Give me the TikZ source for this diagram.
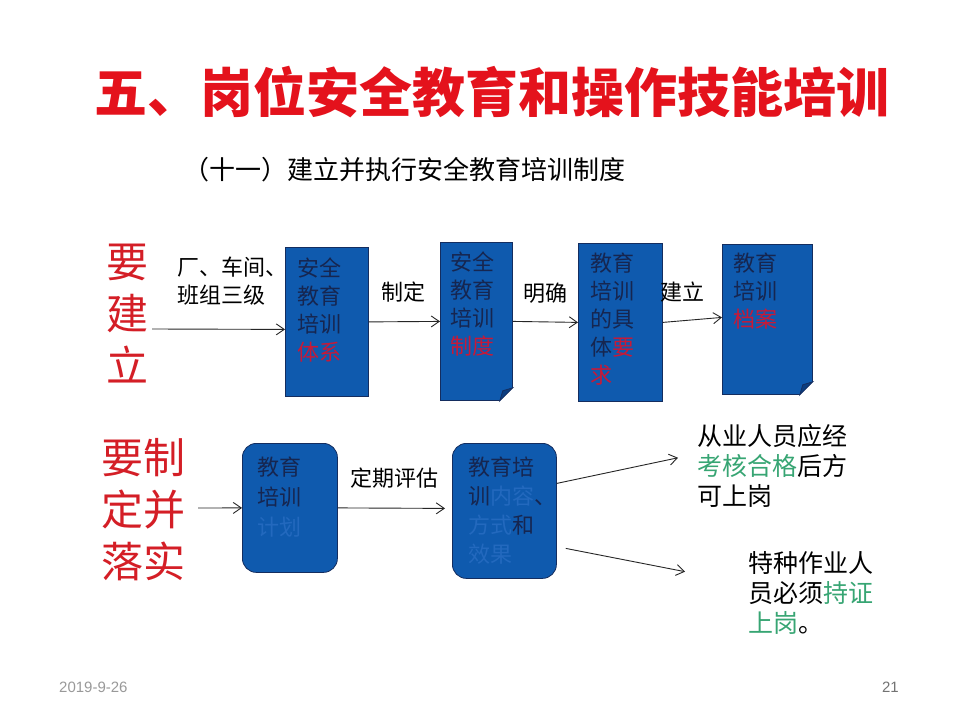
\documentclass[tikz,border=0pt]{standalone}
\usepackage{fontspec}
\setmainfont{Noto Sans CJK SC}
\setsansfont{Liberation Sans}
\usetikzlibrary{positioning,arrows.meta,calc}
\definecolor{boxblue}{RGB}{15,90,174}
\definecolor{boxline}{RGB}{20,45,95}
\definecolor{foldblue}{RGB}{12,62,128}
\definecolor{ink}{RGB}{22,38,80}
\definecolor{hired}{RGB}{200,25,55}
\definecolor{titlered}{RGB}{228,18,28}
\definecolor{sidered}{RGB}{212,30,38}
\definecolor{txtblue}{RGB}{35,105,190}
\definecolor{okgreen}{RGB}{55,165,115}
\newcommand{\fs}[2]{\fontsize{#1bp}{#2bp}\selectfont}
% folded corner at the lower right of a box
\newcommand{\fold}[1]{%
  \fill[white] ([yshift=13bp]#1.south east) -- ([xshift=1.5bp,yshift=13bp]#1.south east)
    -- ([xshift=1.5bp,yshift=-1.5bp]#1.south east) -- ([xshift=-13bp,yshift=-1.5bp]#1.south east)
    -- ([xshift=-13bp]#1.south east) -- cycle;
  \filldraw[fill=foldblue, draw=boxline, line width=0.8bp] ([yshift=13bp]#1.south east)
    -- ([xshift=-13bp]#1.south east) -- ([xshift=-10bp,yshift=10bp]#1.south east) -- cycle;}
\tikzset{
  box/.style={draw=boxline, fill=boxblue, line width=0.8bp, inner sep=0pt, anchor=north west},
  rbox/.style={box, rounded corners=14bp},
  btxt/.style={anchor=north west, inner sep=0pt, align=left, text=ink, font=\fs{22}{28}},
  lbl/.style={inner sep=0pt, align=left, font=\fs{22}{28}},
  side/.style={inner sep=0pt, align=left, text=sidered, font=\fs{42}{52}},
  note/.style={anchor=north west, inner sep=0pt, align=left, font=\fs{25}{30}},
  arr/.style={-{Straight Barb[length=8bp,width=11bp]}, line width=0.9bp, black!85},
}
\begin{document}
\begin{tikzpicture}[x=1bp, y=-1bp]
\fill[white] (0,0) rectangle (960,720);
\useasboundingbox (0,0) rectangle (960,720);

\node[inner sep=0pt, text=titlered, font=\bfseries\fs{53}{60}] (title) at (492,92)
  {五、岗位安全教育和操作技能培训};
\node[anchor=west, inner sep=0pt, font=\fs{26}{30}] (sub) at (183,170)
  {（十一）建立并执行安全教育培训制度};

% first row
\node[side] (L1) at (127,314) {要\\建\\立};
\node[box, minimum width=83bp, minimum height=149bp] (b1) at (285,247) {};
\node[box, minimum width=72bp, minimum height=158bp] (b2) at (440,242) {};
\node[box, minimum width=84bp, minimum height=158bp] (b3) at (578,243) {};
\node[box, minimum width=90bp, minimum height=150bp] (b4) at (722,244) {};
\fold{b2}
\fold{b4}
\node[btxt] (t1) at ([xshift=12bp,yshift=-11bp]b1.north west)
  {安全\\教育\\培训\\{\color{hired}体系}};
\node[btxt] (t2) at ([xshift=10bp,yshift=-10bp]b2.north west)
  {安全\\教育\\培训\\{\color{hired}制度}};
\node[btxt] (t3) at ([xshift=12bp,yshift=-10bp]b3.north west)
  {教育\\培训\\的具\\体{\color{hired}要}\\{\color{hired}求}};
\node[btxt] (t4) at ([xshift=11bp,yshift=-9bp]b4.north west)
  {教育\\培训\\{\color{hired}档案}};
\node[lbl, anchor=north west] (l1) at (177,257) {厂、车间、\\班组三级};
\node[lbl] (l2) at (403,292) {制定};
\node[lbl] (l3) at (545,293) {明确};
\node[lbl] (l4) at (682,292) {建立};
\draw[arr] ([xshift=4bp,yshift=-15bp]L1.east) -- ([yshift=-7.5bp]b1.west);
\draw[arr] (b1.east) -- (b2.west);
\draw[arr] (b2.east) -- (b3.west);
\draw[arr] (b3.east) -- ([yshift=2bp]b4.west);

% second row
\node[side] (L2) at (143,510) {要制\\定并\\落实};
\node[rbox, minimum width=95bp, minimum height=129bp] (b5) at (242,443) {};
\node[rbox, minimum width=104bp, minimum height=135bp] (b6) at (452,443) {};
\node[btxt, font=\fs{22}{30}] (t5) at ([xshift=15bp,yshift=-14bp]b5.north west)
  {教育\\培训\\{\color{txtblue}计划}};
\node[btxt, font=\fs{22}{29}] (t6) at ([xshift=16bp,yshift=-14bp]b6.north west)
  {教育培\\训{\color{txtblue}内容}、\\{\color{txtblue}方式}和\\{\color{txtblue}效果}};
\node[lbl] (l5) at (394,478) {定期评估};
\node[note] (r1) at (697,424)
  {从业人员应经\\{\color{okgreen}考核合格}后方\\可上岗};
\node[note] (r2) at (748,551)
  {特种作业人\\员必须{\color{okgreen}持证}\\{\color{okgreen}上岗}。};
\draw[arr] ([xshift=13bp,yshift=2bp]L2.east) -- (b5.west);
\draw[arr] (b5.east) -- ([xshift=-7bp,yshift=2.5bp]b6.west);
\draw[arr] ([yshift=27.5bp]b6.east) -- ([xshift=-19bp,yshift=8bp]r1.west);
\draw[arr] ([xshift=9bp,yshift=-37.5bp]b6.east) -- ([xshift=-63bp,yshift=21bp]r2.west);

% footer
\node[anchor=west, inner sep=0pt, text=black!40, font=\sffamily\fs{15}{17}] (date) at (59,687) {2019-9-26};
\node[anchor=east, inner sep=0pt, text=black!55, font=\sffamily\fs{15}{17}] (page) at (899,687) {21};
\end{tikzpicture}
\end{document}
